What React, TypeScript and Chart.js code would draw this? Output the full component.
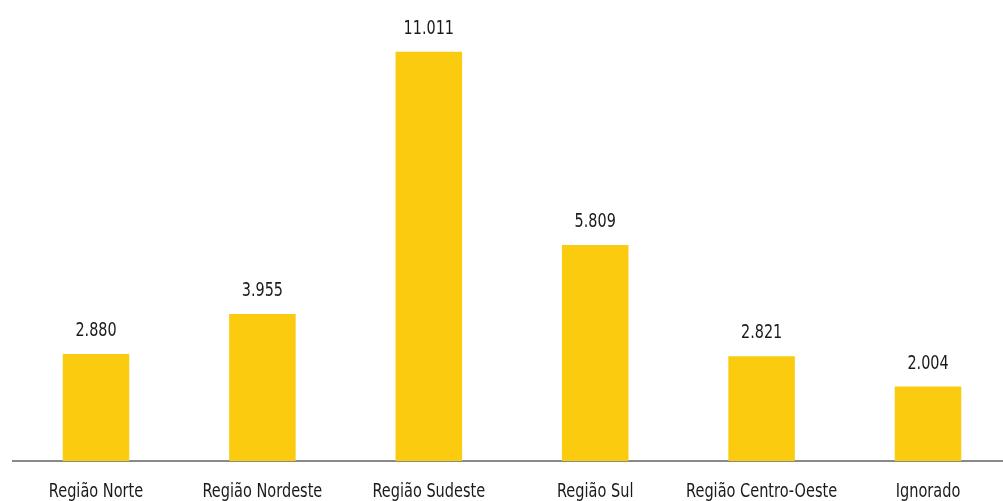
import React, { useEffect, useRef } from "react";
import { Chart, registerables } from "chart.js";

Chart.register(...registerables);

const categories = ["Região Norte", "Região Nordeste", "Região Sudeste", "Região Sul", "Região Centro-Oeste", "Ignorado"];
const values = [2880, 3955, 11011, 5809, 2821, 2004];
const valueLabels = ["2.880", "3.955", "11.011", "5.809", "2.821", "2.004"];

const FONT = "'DejaVu Sans Condensed', 'Liberation Sans Narrow', sans-serif";

export default function App() {
  const ref = useRef<HTMLCanvasElement | null>(null);
  useEffect(() => {
    document.body.style.margin = "0";
    document.body.style.overflow = "hidden";
    const drawSquished = (ctx: CanvasRenderingContext2D, text: string, x: number, y: number, sx: number) => {
      ctx.save();
      ctx.translate(x, y);
      ctx.scale(sx, 1);
      ctx.fillText(text, 0, 0);
      ctx.restore();
    };
    const labelPlugin = {
      id: "valueLabels",
      afterDatasetsDraw(chart: any) {
        const ctx = chart.ctx;
        const meta = chart.getDatasetMeta(0);
        ctx.save();
        ctx.fillStyle = "#1a1a1a";
        ctx.textAlign = "center";
        ctx.textBaseline = "alphabetic";
        ctx.font = `20px ${FONT}`;
        meta.data.forEach((bar: any, i: number) => {
          drawSquished(ctx, valueLabels[i], bar.x, bar.y - 18, 0.8);
        });
        ctx.font = `19px ${FONT}`;
        const bottom = chart.chartArea.bottom;
        meta.data.forEach((bar: any, i: number) => {
          drawSquished(ctx, categories[i], bar.x, bottom + 35.5, 0.85);
        });
        ctx.restore();
      },
    };
    const chart = new Chart(ref.current!, {
      type: "bar",
      data: {
        labels: categories,
        datasets: [
          {
            data: values,
            backgroundColor: "#FBCB10",
            barPercentage: 0.4,
            categoryPercentage: 1,
          },
        ],
      },
      options: {
        animation: false,
        responsive: false,
        layout: { padding: { left: 12.8, right: 8.8, top: 15, bottom: 0 } },
        plugins: { legend: { display: false }, tooltip: { enabled: false } },
        scales: {
          x: {
            grid: { display: false, drawTicks: false },
            border: { display: true, color: "#8a8a8a", width: 2 },
            ticks: { display: false },
            afterFit(scale: any) {
              scale.height = 40;
            },
          },
          y: {
            display: false,
            min: 0,
            max: 12000,
          },
        },
      },
      plugins: [labelPlugin],
    });
    return () => chart.destroy();
  }, []);
  return (
    <div style={{ width: 1003, height: 501, overflow: "hidden", background: "#fff" }}>
      <canvas ref={ref} width={1020} height={501} style={{ display: "block", width: 1020, height: 501 }} />
    </div>
  );
}
